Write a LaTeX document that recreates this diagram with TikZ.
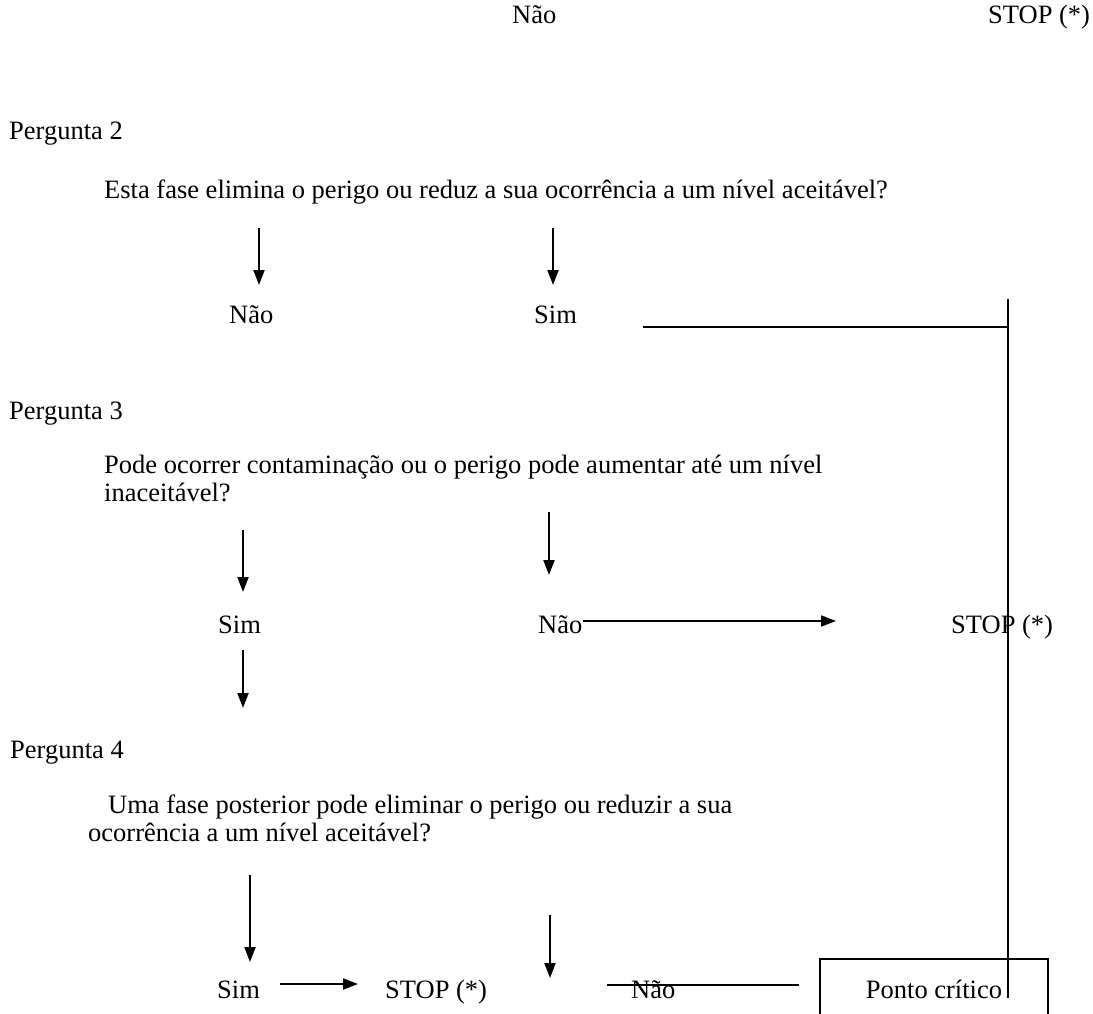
\documentclass[tikz,border=0pt]{standalone}
\usepackage{fontspec}
\setmainfont{Liberation Serif}
\usepackage{tikz}
\usetikzlibrary{calc}
\usetikzlibrary{arrows.meta}

\begin{document}
\begin{tikzpicture}[x=1pt,y=-1pt,font=\fontsize{26.5}{30}\selectfont,
	txt/.style={anchor=base west,inner sep=0pt},
	arr/.style={-{Triangle[length=15pt,width=11pt]},line width=2pt},
	rule/.style={line width=2pt}]
			\clip (0,0) rectangle (1093,1014);
			\fill[white] (0,0) rectangle (1093,1014);
			
			% pergunta 1 (resto)
			\node[txt] (N1) at (512,24) {Não};
			\node[txt] (S1) at (988,24) {STOP (*)};
			
			% pergunta 2
			\node[txt] (P2) at (9,140) {Pergunta 2};
			\node[txt] (Q2) at (104,198) {Esta fase elimina o perigo ou reduz a sua ocorrência a um nível aceitável?};
			\node[txt] (N2) at (229,323) {Não};
			\node[txt] (Y2) at (534,323) {Sim};
			\coordinate (a1) at (259,228);
			\coordinate (a2) at (553,228);
			\coordinate (J1) at (643,327);
			\coordinate (J2) at (1008,327);
			\coordinate (J0) at (1008,299);
			
			% pergunta 3
			\node[txt] (P3) at (9,419) {Pergunta 3};
			\node[txt] (Q3) at (104,473) {Pode ocorrer contaminação ou o perigo pode aumentar até um nível};
			\node[txt] (Q3b) at (104,501) {inaceitável?};
			\node[txt] (Y3) at (218,633) {Sim};
			\node[txt] (N3) at (538,633) {Não};
			\node[txt] (S3) at (951,633) {STOP (*)};
			\coordinate (b1) at (243,530);
			\coordinate (b2) at (549,512);
			\coordinate (b3) at (243,650);
			\coordinate (b4) at (836,621);
			
			% pergunta 4
			\node[txt] (P4) at (10,758) {Pergunta 4};
			\node[txt] (Q4) at (108,813) {Uma fase posterior pode eliminar o perigo ou reduzir a sua};
			\node[txt] (Q4b) at (88,841) {ocorrência a um nível aceitável?};
			\node[txt] (Y4) at (217,998) {Sim};
			\node[txt] (S4) at (385,998) {STOP (*)};
			\node[txt] (N4) at (631,998) {Não};
			\node[draw,line width=2pt,text height=18pt,text depth=5pt,minimum width=228pt,minimum height=66pt,anchor=base] (PC) at (934,998) {Ponto crítico};
			\coordinate (c1) at (250,875);
			\coordinate (c2) at (550,915);
			\coordinate (c3) at (280,984);
			\coordinate (c4) at (607,985);
			\coordinate (c5) at (799,985);
			
			\draw[arr] (a1)--++(0,57);
			\draw[arr] (a2)--++(0,57);
			\draw[rule] (J1)--(J2);
			\draw[rule] (J0)--(J0 |- PC.base);
			\draw[arr] (b1)--++(0,62);
			\draw[arr] (b2)--++(0,63);
			\draw[arr] (N3.east |- b4)--(b4);
			\draw[arr] (b3)--++(0,58);
			\draw[arr] (c1)--++(0,87);
			\draw[arr] (c2)--++(0,63);
			\draw[arr] (c3)--++(78,0);
			\draw[rule] (c4)--(c5);
		\end{tikzpicture}
\end{document}
